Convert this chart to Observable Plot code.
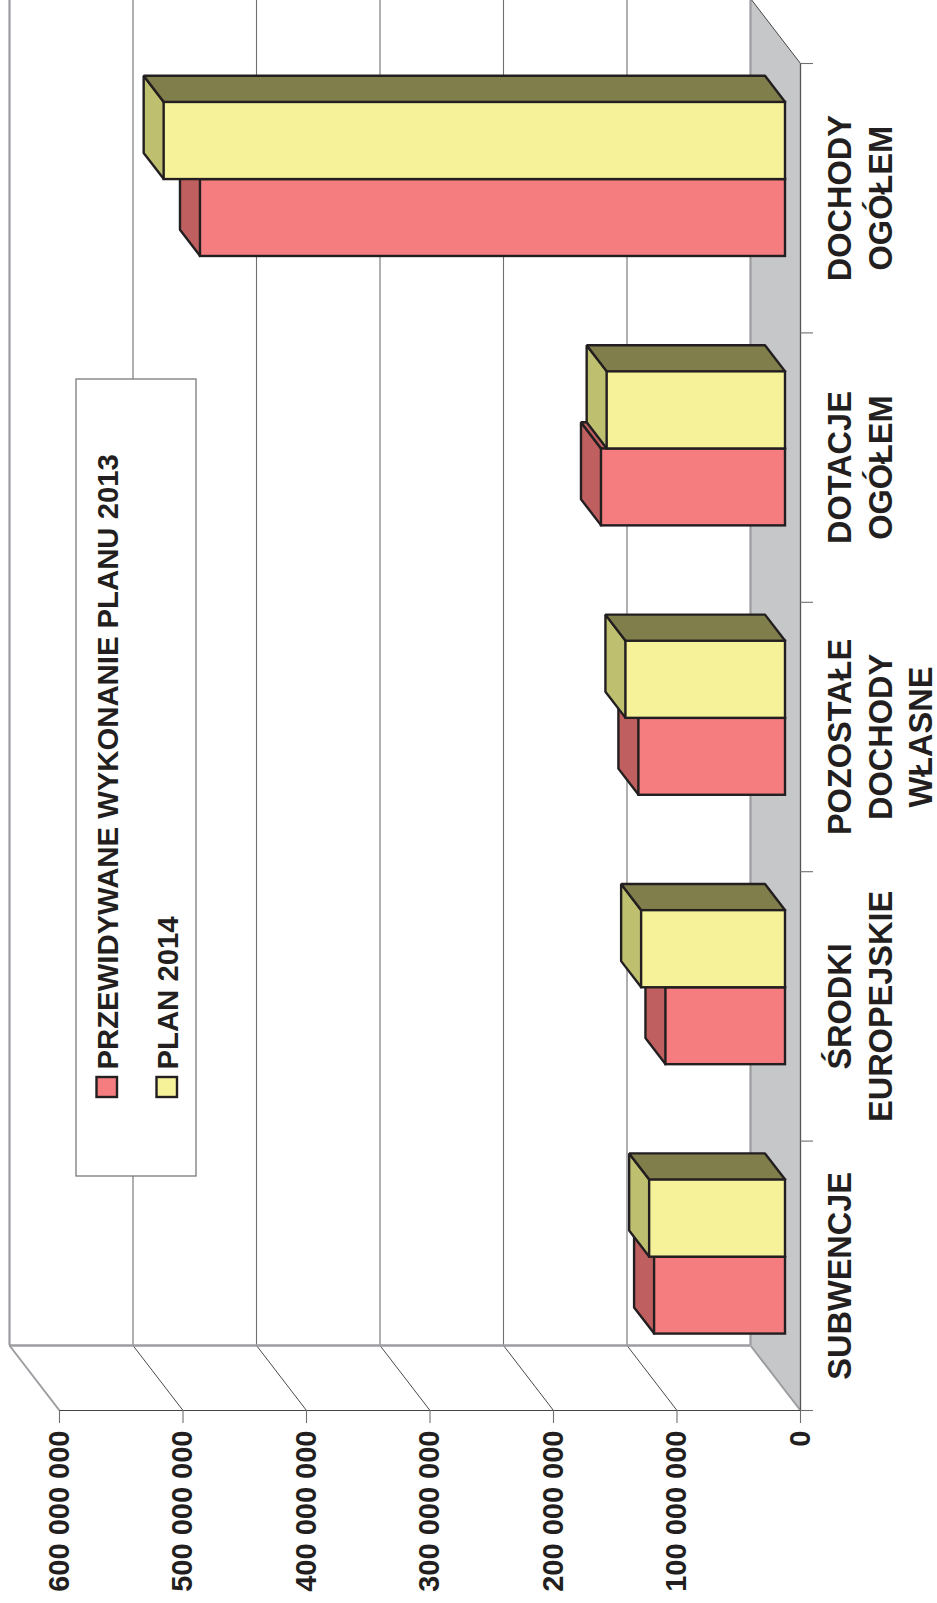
<!DOCTYPE html>
<html>
<head>
<meta charset="utf-8">
<style>html,body{margin:0;padding:0;background:#fff}svg{display:block}</style>
<script src="https://cdn.jsdelivr.net/npm/d3@7"></script>
<script src="https://cdn.jsdelivr.net/npm/@observablehq/plot@0.6"></script>
</head>
<body>
<script>
// Data
const categories = ["SUBWENCJE", "ŚRODKI\nEUROPEJSKIE", "POZOSTAŁE\nDOCHODY\nWŁASNE", "DOTACJE\nOGÓŁEM", "DOCHODY\nOGÓŁEM"];
const plan2013 = [106000000, 96800000, 118700000, 149000000, 473700000];
const plan2014 = [110000000, 116500000, 129200000, 144400000, 503100000];
const valueTicks = [0, 100000000, 200000000, 300000000, 400000000, 500000000, 600000000];
const valueTickLabels = ["0", "100 000 000", "200 000 000", "300 000 000", "400 000 000", "500 000 000", "600 000 000"];
const legendNames = ["PRZEWIDYWANE WYKONANIE PLANU 2013", "PLAN 2014"];

// Scales and 3D layout
const W = 937, H = 1603;
const X0 = 800, XMAX = 59, Y0 = 1410, YTOP = 63;
const pxPerValue = (X0 - XMAX) / 600000000, pxPerSlot = (Y0 - YTOP) / 5;
const DX = 50 / pxPerValue, DY = 65 / pxPerSlot;     // depth of the box, in scale units
const dF = 0.30, dB = 0.71;                          // bar front and back, as a share of depth
const P = (v, s, d) => ({x: v + d * DX, y: s + d * DY});
const xAt = (px) => (X0 - px) / pxPerValue, yAt = (px) => (Y0 - px) / pxPerSlot;

const ink = "#231f20", gridC = "#6f6f71", wallC = "#9c9da0";
const series = [
  {values: plan2013, a: 0.2113, b: 0.4968, front: "#f57d80", side: "#c05f5f", top: "#c05f5f"},
  {values: plan2014, a: 0.4968, b: 0.783, front: "#f6f299", side: "#bfbf70", top: "#807e4a"}
];
const font = {fontFamily: "Liberation Sans", fontWeight: "bold", fill: ink, rotate: -90};

const poly = (pts, fill, stroke, strokeWidth) =>
  Plot.line(pts, {x: "x", y: "y", curve: "linear-closed", fill, stroke, strokeWidth, strokeLinejoin: "miter"});

const marks = [];
// floor and walls
marks.push(poly([P(0, 0, 0), P(0, 5, 0), P(0, 5, 1), P(0, 0, 1)], "#c6c7c9", "none", 0));
for (const v of valueTicks) {
  const wall = v === 0 || v === 600000000;
  marks.push(Plot.ruleX([v + DX], {y1: 0 + DY, y2: 5 + DY, stroke: wall ? wallC : gridC, strokeWidth: wall ? 2.2 : 1.1}));
  marks.push(Plot.link([v], {x1: (d) => d, y1: 0, x2: (d) => d + DX, y2: DY, stroke: wall ? wallC : "#333", strokeWidth: wall ? 2 : 0.9}));
}
marks.push(Plot.ruleY([DY], {x1: DX, x2: 600000000 + DX, stroke: wallC, strokeWidth: 2.4}));
marks.push(Plot.link([0], {x1: 0, y1: 5, x2: DX, y2: 5 + DY, stroke: "#333", strokeWidth: 0.9}));

// axes
marks.push(Plot.ruleY([0], {x1: xAt(813), x2: 600000000, stroke: "#444", strokeWidth: 1.2}));
marks.push(Plot.ruleX([0], {y1: 0, y2: 5, stroke: "#555", strokeWidth: 1.3}));
marks.push(Plot.ruleX(valueTicks, {y1: 0, y2: yAt(1423), stroke: gridC, strokeWidth: 1.1}));
marks.push(Plot.ruleY(d3.range(categories.length + 1), {x1: 0, x2: xAt(813), stroke: gridC, strokeWidth: 1.1}));
marks.push(Plot.text(valueTickLabels, {...font, x: (d, i) => valueTicks[i], y: yAt(1430), text: (d) => d, textAnchor: "end", lineAnchor: "middle", fontSize: 29}));
marks.push(Plot.text(categories, {...font, x: xAt(822), y: (d, i) => i + 0.5, text: (d) => d, textAnchor: "middle", lineAnchor: "top", lineHeight: 1.246, fontSize: 32.5}));

// bars
categories.forEach((c, i) => {
  for (const s of series) {
    const v = s.values[i], a = i + s.a, b = i + s.b;
    marks.push(poly([P(v, a, dF), P(v, b, dF), P(v, b, dB), P(v, a, dB)], s.side, ink, 2.4));
    marks.push(poly([P(0, b, dF), P(v, b, dF), P(v, b, dB), P(0, b, dB)], s.top, ink, 2.4));
    marks.push(Plot.rect([v], {x1: dF * DX, x2: v + dF * DX, y1: a + dF * DY, y2: b + dF * DY, fill: s.front, stroke: ink, strokeWidth: 2.4}));
  }
});

// legend
marks.push(Plot.rect([0], {x1: xAt(76), x2: xAt(196), y1: yAt(1176), y2: yAt(379), fill: "#fff", stroke: "#6f6f71", strokeWidth: 1.2}));
const legendX = [117, 177];
legendNames.forEach((name, i) => {
  const s = series[i];
  marks.push(Plot.rect([name], {x1: xAt(legendX[i] - 20.5), x2: xAt(legendX[i]), y1: yAt(1097), y2: yAt(1077), fill: s.front, stroke: ink, strokeWidth: 2.4}));
  marks.push(Plot.text([name], {...font, x: xAt(legendX[i]), y: yAt(1069), text: (d) => d, textAnchor: "start", lineAnchor: "bottom", fontSize: 29.3}));
});

const chart = Plot.plot({
  width: W, height: H,
  margin: 0,
  style: {background: "#fff", overflow: "hidden"},
  x: {type: "linear", domain: [0, 600000000], range: [X0, XMAX], axis: null},
  y: {type: "linear", domain: [0, 5], range: [Y0, YTOP], axis: null},
  marks
});
document.body.appendChild(chart);
</script>
</body>
</html>
